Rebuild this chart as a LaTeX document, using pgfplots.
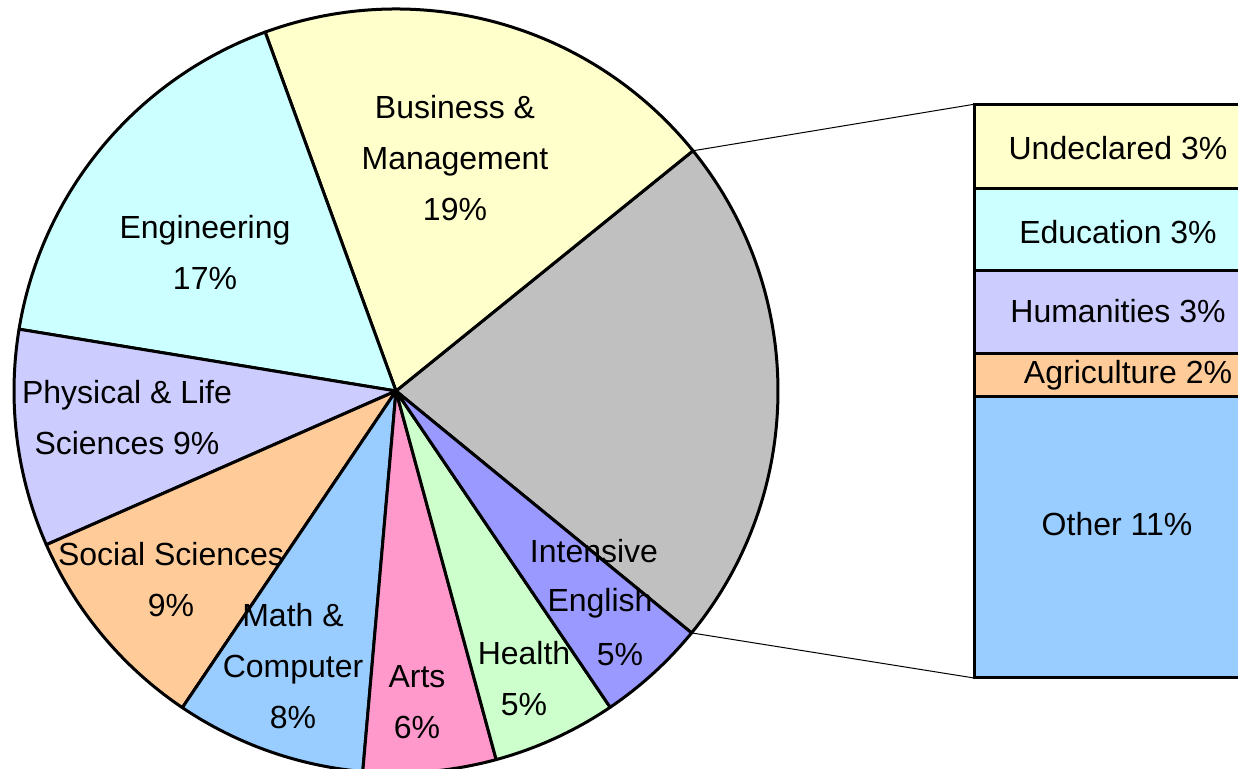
\documentclass[border=0pt]{standalone}
\usepackage{pgfplots}
\pgfplotsset{compat=1.18}
\usepackage{fontspec}
\setmainfont{Liberation Sans}
\definecolor{cGray}{HTML}{C0C0C0}
\definecolor{cBus}{HTML}{FFFFCC}
\definecolor{cEng}{HTML}{CCFFFF}
\definecolor{cPhy}{HTML}{CCCCFF}
\definecolor{cSoc}{HTML}{FFCC99}
\definecolor{cMath}{HTML}{99CCFF}
\definecolor{cArts}{HTML}{FF99CC}
\definecolor{cHealth}{HTML}{CCFFCC}
\definecolor{cEnglish}{HTML}{9999FF}
\begin{document}
\begin{tikzpicture}[every node/.style={font=\fontsize{16}{25.5}\selectfont, align=center}]
\clip (0,0) rectangle (619pt,384.5pt);
% pie shares (percent), counter-clockwise from the start angle
\pgfmathsetmacro\aA{-39.3}
\pgfmathsetmacro\aB{\aA+21.74*3.6}% Other (gray)
\pgfmathsetmacro\aC{\aB+19.74*3.6}% Business
\pgfmathsetmacro\aD{\aC+16.85*3.6}% Engineering
\pgfmathsetmacro\aE{\aD+9.18*3.6}% Physical
\pgfmathsetmacro\aF{\aE+8.96*3.6}% Social
\pgfmathsetmacro\aG{\aF+8.06*3.6}% Math
\pgfmathsetmacro\aH{\aG+5.61*3.6}% Arts
\pgfmathsetmacro\aI{\aH+5.25*3.6}% Health
\pgfmathsetmacro\aJ{\aI+4.61*3.6}% English
% bar of pie
\begin{axis}[at={(487pt,45.5pt)},anchor=south west,scale only axis,
  width=144pt,height=286.85pt,xmin=-0.5,xmax=0.5,ymin=0,ymax=21.75,
  hide axis,ybar stacked,bar width=144pt,clip=false]
\addplot[fill=cMath,draw=black,line width=1.5pt] coordinates {(0,10.69)};
\addplot[fill=cSoc,draw=black,line width=1.5pt] coordinates {(0,1.62)};
\addplot[fill=cPhy,draw=black,line width=1.5pt] coordinates {(0,3.12)};
\addplot[fill=cEng,draw=black,line width=1.5pt] coordinates {(0,3.11)};
\addplot[fill=cBus,draw=black,line width=1.5pt] coordinates {(0,3.21)};
\end{axis}
\begin{axis}[at={(0,0)},anchor=south west,scale only axis,
  width=619pt,height=384.5pt,xmin=0,xmax=1238,ymin=0,ymax=769,
  hide axis,clip=false]
\def\cx{396}\def\cy{378}\def\R{191pt}
\filldraw[fill=cGray,line width=1.5pt,line join=round] (axis cs:\cx,\cy) -- ++(\aA:\R) arc[start angle=\aA,end angle=\aB,radius=\R] -- cycle;
\filldraw[fill=cBus,line width=1.5pt,line join=round] (axis cs:\cx,\cy) -- ++(\aB:\R) arc[start angle=\aB,end angle=\aC,radius=\R] -- cycle;
\filldraw[fill=cEng,line width=1.5pt,line join=round] (axis cs:\cx,\cy) -- ++(\aC:\R) arc[start angle=\aC,end angle=\aD,radius=\R] -- cycle;
\filldraw[fill=cPhy,line width=1.5pt,line join=round] (axis cs:\cx,\cy) -- ++(\aD:\R) arc[start angle=\aD,end angle=\aE,radius=\R] -- cycle;
\filldraw[fill=cSoc,line width=1.5pt,line join=round] (axis cs:\cx,\cy) -- ++(\aE:\R) arc[start angle=\aE,end angle=\aF,radius=\R] -- cycle;
\filldraw[fill=cMath,line width=1.5pt,line join=round] (axis cs:\cx,\cy) -- ++(\aF:\R) arc[start angle=\aF,end angle=\aG,radius=\R] -- cycle;
\filldraw[fill=cArts,line width=1.5pt,line join=round] (axis cs:\cx,\cy) -- ++(\aG:\R) arc[start angle=\aG,end angle=\aH,radius=\R] -- cycle;
\filldraw[fill=cHealth,line width=1.5pt,line join=round] (axis cs:\cx,\cy) -- ++(\aH:\R) arc[start angle=\aH,end angle=\aI,radius=\R] -- cycle;
\filldraw[fill=cEnglish,line width=1.5pt,line join=round] (axis cs:\cx,\cy) -- ++(\aI:\R) arc[start angle=\aI,end angle=\aJ,radius=\R] -- cycle;
% connectors
\draw[line width=0.5pt] (axis cs:\cx,\cy) ++(\aB:\R) -- (axis cs:974,664.7);
\draw[line width=0.5pt] (axis cs:\cx,\cy) ++(\aA:\R) -- (axis cs:974,91);
% pie labels
\node at (axis cs:455,611) {Business \&\\Management\\19\%};
\node at (axis cs:205,516.5) {Engineering\\17\%};
\node at (axis cs:127,351) {Physical \& Life\\Sciences 9\%};
\node at (axis cs:171,189.5) {Social Sciences\\9\%};
\node at (axis cs:293,103) {Math \&\\Computer\\8\%};
\node at (axis cs:417,67) {Arts\\6\%};
\node at (axis cs:524,90.5) {Health\\5\%};
\node at (axis cs:594,218) {Intensive};
\node at (axis cs:600,166) {English};
\node at (axis cs:620,114) {5\%};
% bar labels
\node at (axis cs:1118,621) {Undeclared 3\%};
\node at (axis cs:1118,537) {Education 3\%};
\node at (axis cs:1118,458) {Humanities 3\%};
\node at (axis cs:1128,394) {Agriculture 2\%};
\node at (axis cs:1117,245) {Other 11\%};
\end{axis}
\end{tikzpicture}
\end{document}
